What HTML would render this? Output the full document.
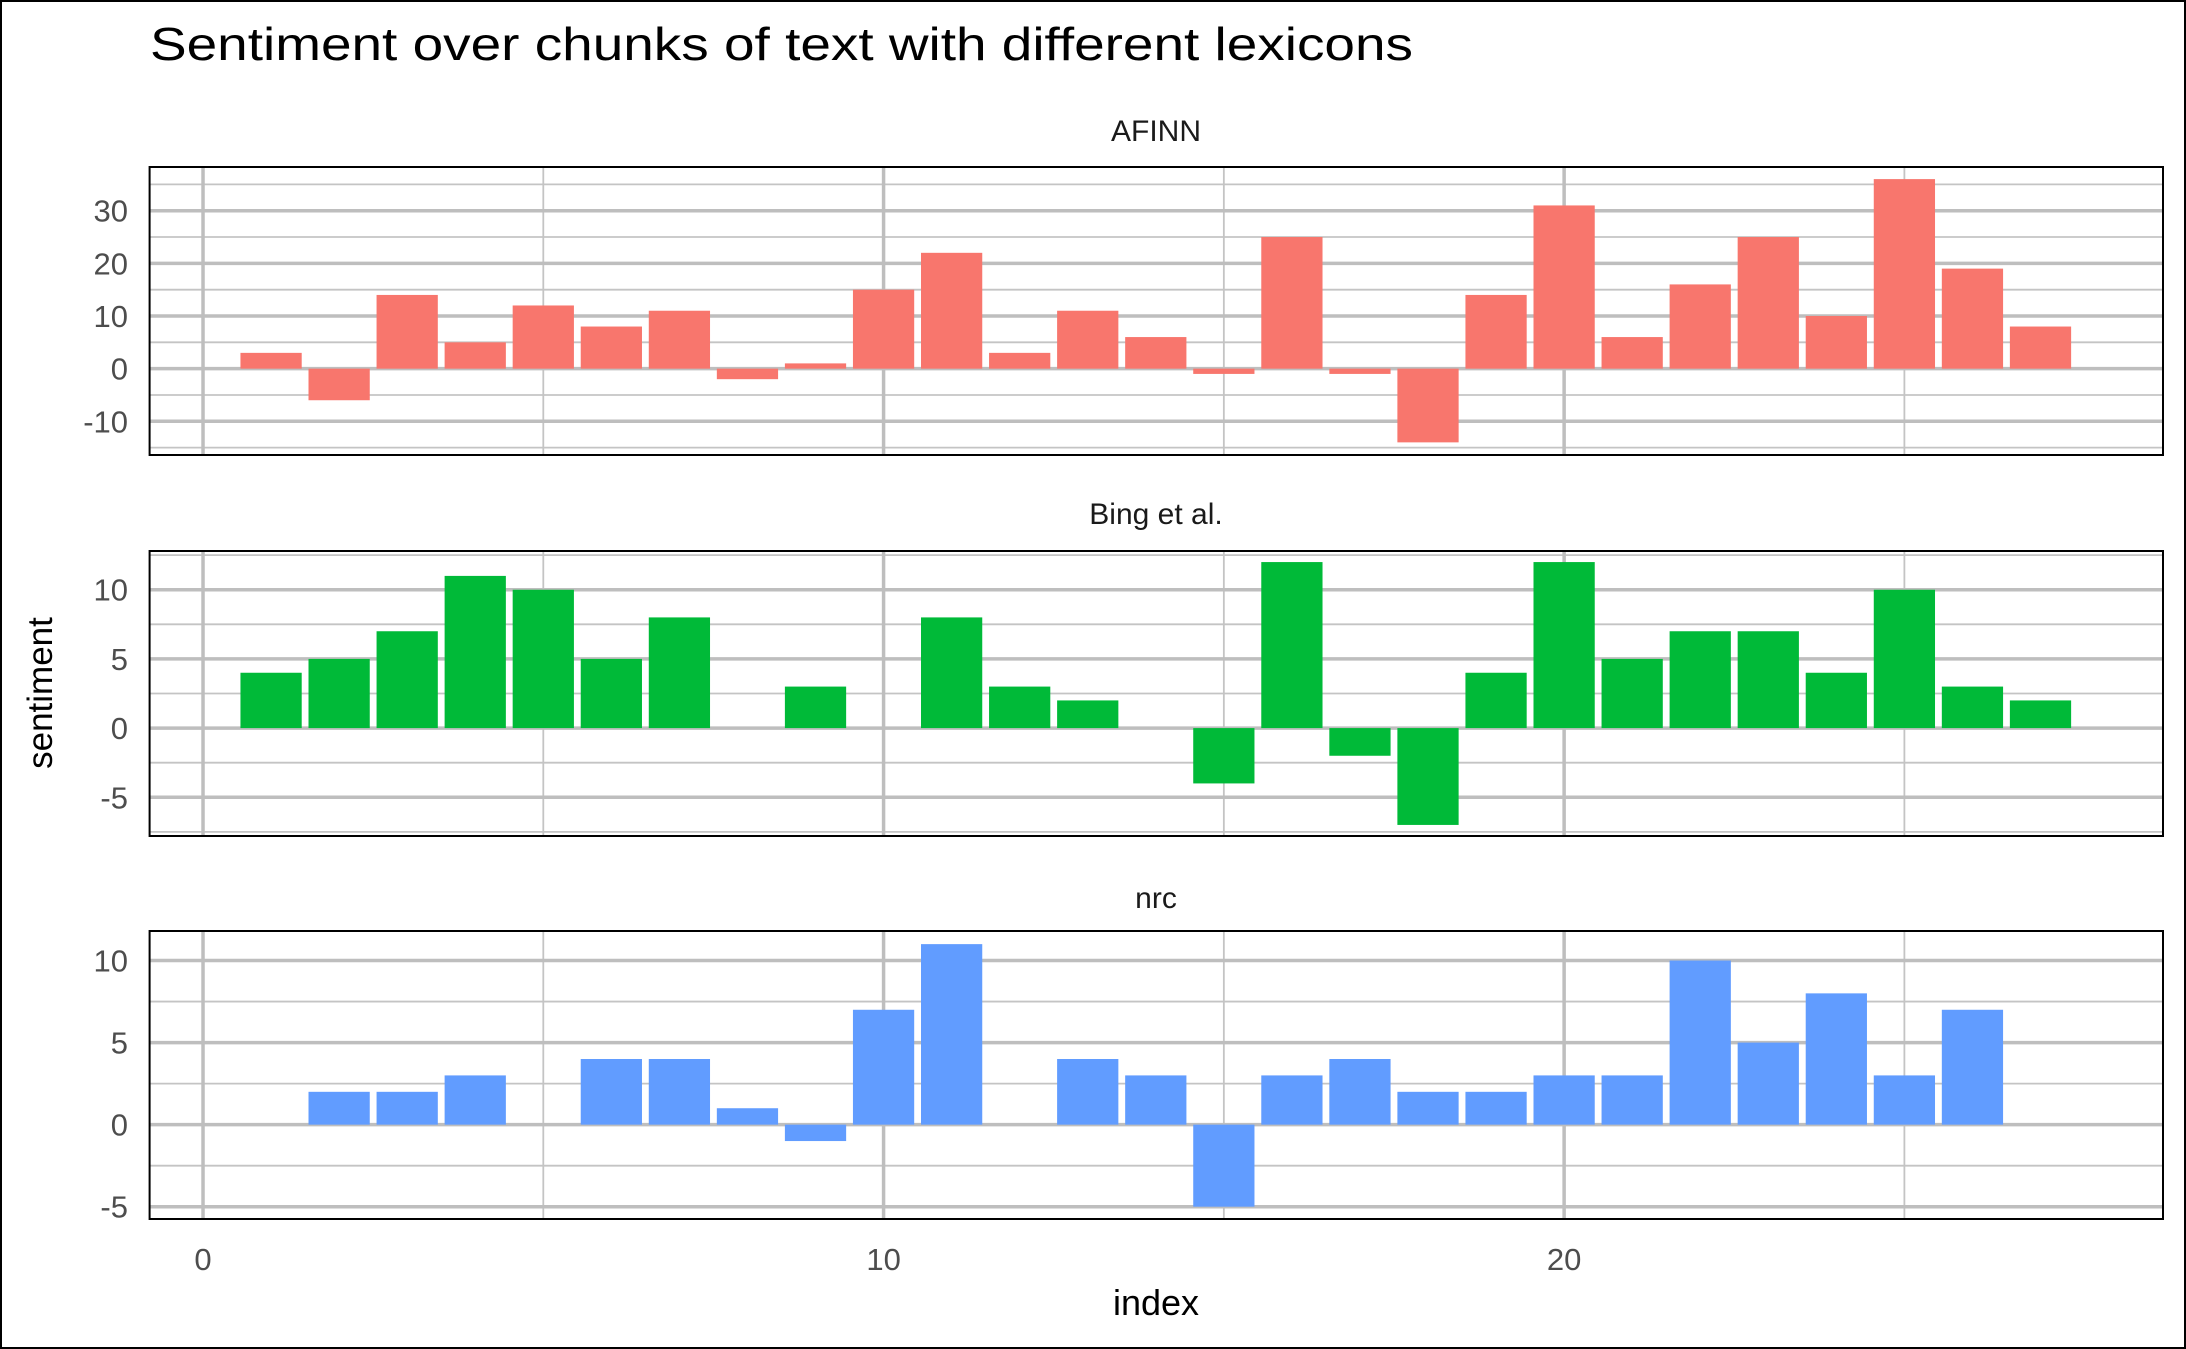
<!DOCTYPE html>
<html><head><meta charset="utf-8">
<style>
html,body{margin:0;padding:0;background:#fff;}
svg{display:block;font-family:"Liberation Sans",Arial,sans-serif;}
</style></head>
<body>
<svg id="chart" width="2186" height="1349" viewBox="0 0 2186 1349">
<rect x="1" y="1" width="2184" height="1347" fill="#fff" stroke="#000" stroke-width="2"/>
<text x="150" y="60" font-size="46" fill="#000" textLength="1263" lengthAdjust="spacingAndGlyphs">Sentiment over chunks of text with different lexicons</text>
<text transform="translate(52,693) rotate(-90)" text-anchor="middle" font-size="35" fill="#000">sentiment</text>
<text x="1156" y="1315" text-anchor="middle" font-size="36" fill="#000">index</text>
<g id="plots"></g>
</svg>
<script>
const indices = [1,2,3,4,5,6,7,8,9,10,11,12,13,14,15,16,17,18,19,20,21,22,23,24,25,26,27];
const afinnValues = [3,-6,14,5,12,8,11,-2,1,15,22,3,11,6,-1,25,-1,-14,14,31,6,16,25,10,36,19,8];
const bingValues = [4,5,7,11,10,5,8,0,3,0,8,3,2,0,-4,12,-2,-7,4,12,5,7,7,4,10,3,2];
const nrcValues = [0,2,2,3,0,4,4,1,-1,7,11,0,4,3,-5,3,4,2,2,3,3,10,5,8,3,7,0];
const panelNames = ["AFINN","Bing et al.","nrc"];
const panelColors = ["#F8766D","#00BA38","#619CFF"];
const afinnTicks = [-10,0,10,20,30];
const bingTicks = [-5,0,5,10];
const nrcTicks = [-5,0,5,10];
const xTicks = [0,10,20];

const NS="http://www.w3.org/2000/svg";
const root=document.getElementById('plots');
function mk(tag,attrs,parent){const e=document.createElementNS(NS,tag);for(const k in attrs)e.setAttribute(k,attrs[k]);(parent||root).appendChild(e);return e;}

const xMin=-0.785, xMax=28.8, left=149.6, right=2163;
function xScale(v){return left+(v-xMin)/(xMax-xMin)*(right-left);}

const panels=[
 {vals:afinnValues,ticks:afinnTicks,minor:[-15,-5,5,15,25,35],top:167,bottom:455,yMin:-16.4,yMax:38.3,stripY:141},
 {vals:bingValues,ticks:bingTicks,minor:[-7.5,-2.5,2.5,7.5,12.5],top:551,bottom:836,yMin:-7.8,yMax:12.8,stripY:524},
 {vals:nrcValues,ticks:nrcTicks,minor:[-2.5,2.5,7.5],top:931,bottom:1219,yMin:-5.75,yMax:11.8,stripY:908}
];
const barW=0.9;

panels.forEach((p,pi)=>{
  const g=mk('g',{});
  
  
  const yS=v=>p.bottom-(v-p.yMin)/(p.yMax-p.yMin)*(p.bottom-p.top);
  const strip=mk('text',{x:1156,y:p.stripY,'text-anchor':'middle','font-size':30,fill:'#1a1a1a'},g);
  strip.textContent=panelNames[pi];
  
  
  p.minor.forEach(v=>{const y=yS(v);if(y>p.top&&y<p.bottom){const l=mk('line',{x1:left,x2:right,y1:y,y2:y,stroke:'#c4c4c4','stroke-width':1.8},g);
    
    }});
  [5,15,25].forEach(v=>{const x=xScale(v);const l=mk('line',{x1:x,x2:x,y1:p.top,y2:p.bottom,stroke:'#c4c4c4','stroke-width':1.8},g);
    
    });
  p.ticks.forEach(v=>{const y=yS(v);const l=mk('line',{x1:left,x2:right,y1:y,y2:y,stroke:'#bebebe','stroke-width':3.5},g);
    
    
    const t=mk('text',{x:128,y:y+11,'text-anchor':'end','font-size':31,fill:'#4d4d4d'},g);
    t.textContent=String(v);
    
    });
  xTicks.forEach(v=>{const x=xScale(v);const l=mk('line',{x1:x,x2:x,y1:p.top,y2:p.bottom,stroke:'#bebebe','stroke-width':3.5},g);
    
    });
  p.vals.forEach((v,i)=>{if(v===0)return;const x0=xScale(indices[i]-barW/2),x1=xScale(indices[i]+barW/2);
    const y0=yS(Math.max(v,0)),y1=yS(Math.min(v,0));
    const r=mk('rect',{x:x0,y:y0,width:x1-x0,height:y1-y0,fill:panelColors[pi]},g);
    
    });
  const b=mk('rect',{x:left,y:p.top,width:right-left,height:p.bottom-p.top,fill:'none',stroke:'#000','stroke-width':2},g);
  
  
});
xTicks.forEach(v=>{const t=mk('text',{x:xScale(v),y:1270,'text-anchor':'middle','font-size':31,fill:'#4d4d4d'});
  t.textContent=v;
  
  });
</script>
</body></html>
